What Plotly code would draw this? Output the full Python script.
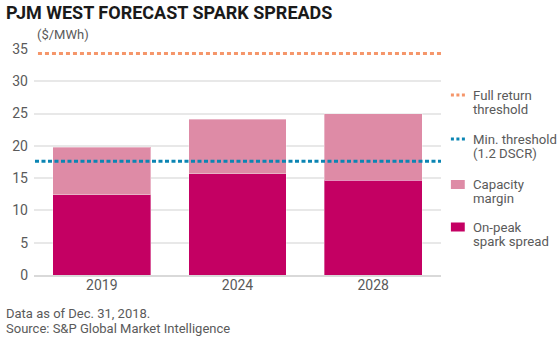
import plotly.graph_objects as go

# Forecast spark spreads, PJM West ($/MWh)
years = ["2019", "2024", "2028"]
on_peak_spread = [12.4, 15.7, 14.7]
capacity_margin = [7.4, 8.4, 10.3]
full_return_threshold = 34.3
min_threshold = 17.6
y_ticks = [0, 5, 10, 15, 20, 25, 30, 35]

W, H = 560, 339
ML, MR, MT, MB = 30, 119, 49, 64

C_PEAK = "#C40063"
C_CAP = "#DE8BA6"
C_FULL = "#F5966A"
C_MIN = "#0B85B3"
C_TEXT = "#5a5a5a"
FONT = "Roboto"


def px_x(x):
    return (x - ML) / (W - ML - MR)


def px_y(y):
    return (H - MB - y) / (H - MT - MB)


fig = go.Figure()
fig.add_trace(go.Bar(
    x=years, y=on_peak_spread, name="On-peak spark spread",
    marker=dict(color=C_PEAK, line=dict(color="rgba(255,255,255,0.35)", width=1)),
    width=0.72,
))
fig.add_trace(go.Bar(
    x=years, y=capacity_margin, name="Capacity margin",
    marker=dict(color=C_CAP, line=dict(color="rgba(255,255,255,0.35)", width=1)),
    width=0.72,
))

# Threshold reference lines
fig.add_shape(type="line", xref="paper", yref="y", x0=px_x(34), x1=1.0,
              y0=full_return_threshold, y1=full_return_threshold,
              line=dict(color=C_FULL, width=3, dash="4px,3px"))
fig.add_shape(type="line", xref="paper", yref="y", x0=px_x(31), x1=1.0,
              y0=min_threshold, y1=min_threshold,
              line=dict(color=C_MIN, width=3, dash="4px,2.5px"))

annotations = []


def text(x, y, s, size=14, color=C_TEXT, xanchor="left", bold=False):
    annotations.append(dict(
        xref="paper", yref="paper", x=px_x(x), y=px_y(y), text=s,
        showarrow=False, xanchor=xanchor, yanchor="middle",
        font=dict(family=FONT, size=size, color=color,
                  weight="bold" if bold else "normal"),
    ))


text(0, 12, "PJM WEST FORECAST SPARK SPREADS", size=18, color="#1a1a1a", bold=True)
text(31, 35, "($/MWh)", size=13)
text(0, 313, "Data as of Dec. 31, 2018.", size=13)
text(0, 328, "Source: S&P Global Market Intelligence", size=13)

# Legend
LX = 471
legend_rows = [
    ("line", C_FULL, "Full return", "threshold", 95),
    ("line", C_MIN, "Min. threshold", "(1.2 DSCR)", 139),
    ("box", C_CAP, "Capacity", "margin", 184.5),
    ("box", C_PEAK, "On-peak", "spark spread", 227),
]
for kind, color, l1, l2, yc in legend_rows:
    text(LX, yc, l1, size=13.2)
    text(LX, yc + 14.5, l2, size=13.2)
    if kind == "line":
        fig.add_shape(type="line", xref="paper", yref="paper",
                      x0=px_x(451), x1=px_x(466), y0=px_y(yc), y1=px_y(yc),
                      line=dict(color=color, width=3, dash="3px,2.5px"))
    else:
        fig.add_shape(type="rect", xref="paper", yref="paper",
                      x0=px_x(451), x1=px_x(465), y0=px_y(yc - 4.5), y1=px_y(yc + 4.5),
                      line=dict(width=0), fillcolor=color)

fig.update_layout(
    width=W, height=H,
    margin=dict(l=ML, r=MR, t=MT, b=MB, pad=0),
    barmode="stack", bargap=0.28,
    showlegend=False,
    plot_bgcolor="white", paper_bgcolor="white",
    annotations=annotations,
    font=dict(family=FONT, color=C_TEXT),
    xaxis=dict(showgrid=False, showline=True, linecolor="#d9d9d9", linewidth=1.5,
               ticks="", tickfont=dict(size=14, color=C_TEXT), ticklabelstandoff=-4),
    yaxis=dict(range=[0, 35], tickvals=y_ticks, showgrid=True, gridcolor="#e8e8e8",
               gridwidth=1.5, zeroline=False, ticks="",
               tickfont=dict(size=14, color=C_TEXT), ticklabelstandoff=5),
)

fig.write_html("out.html")
